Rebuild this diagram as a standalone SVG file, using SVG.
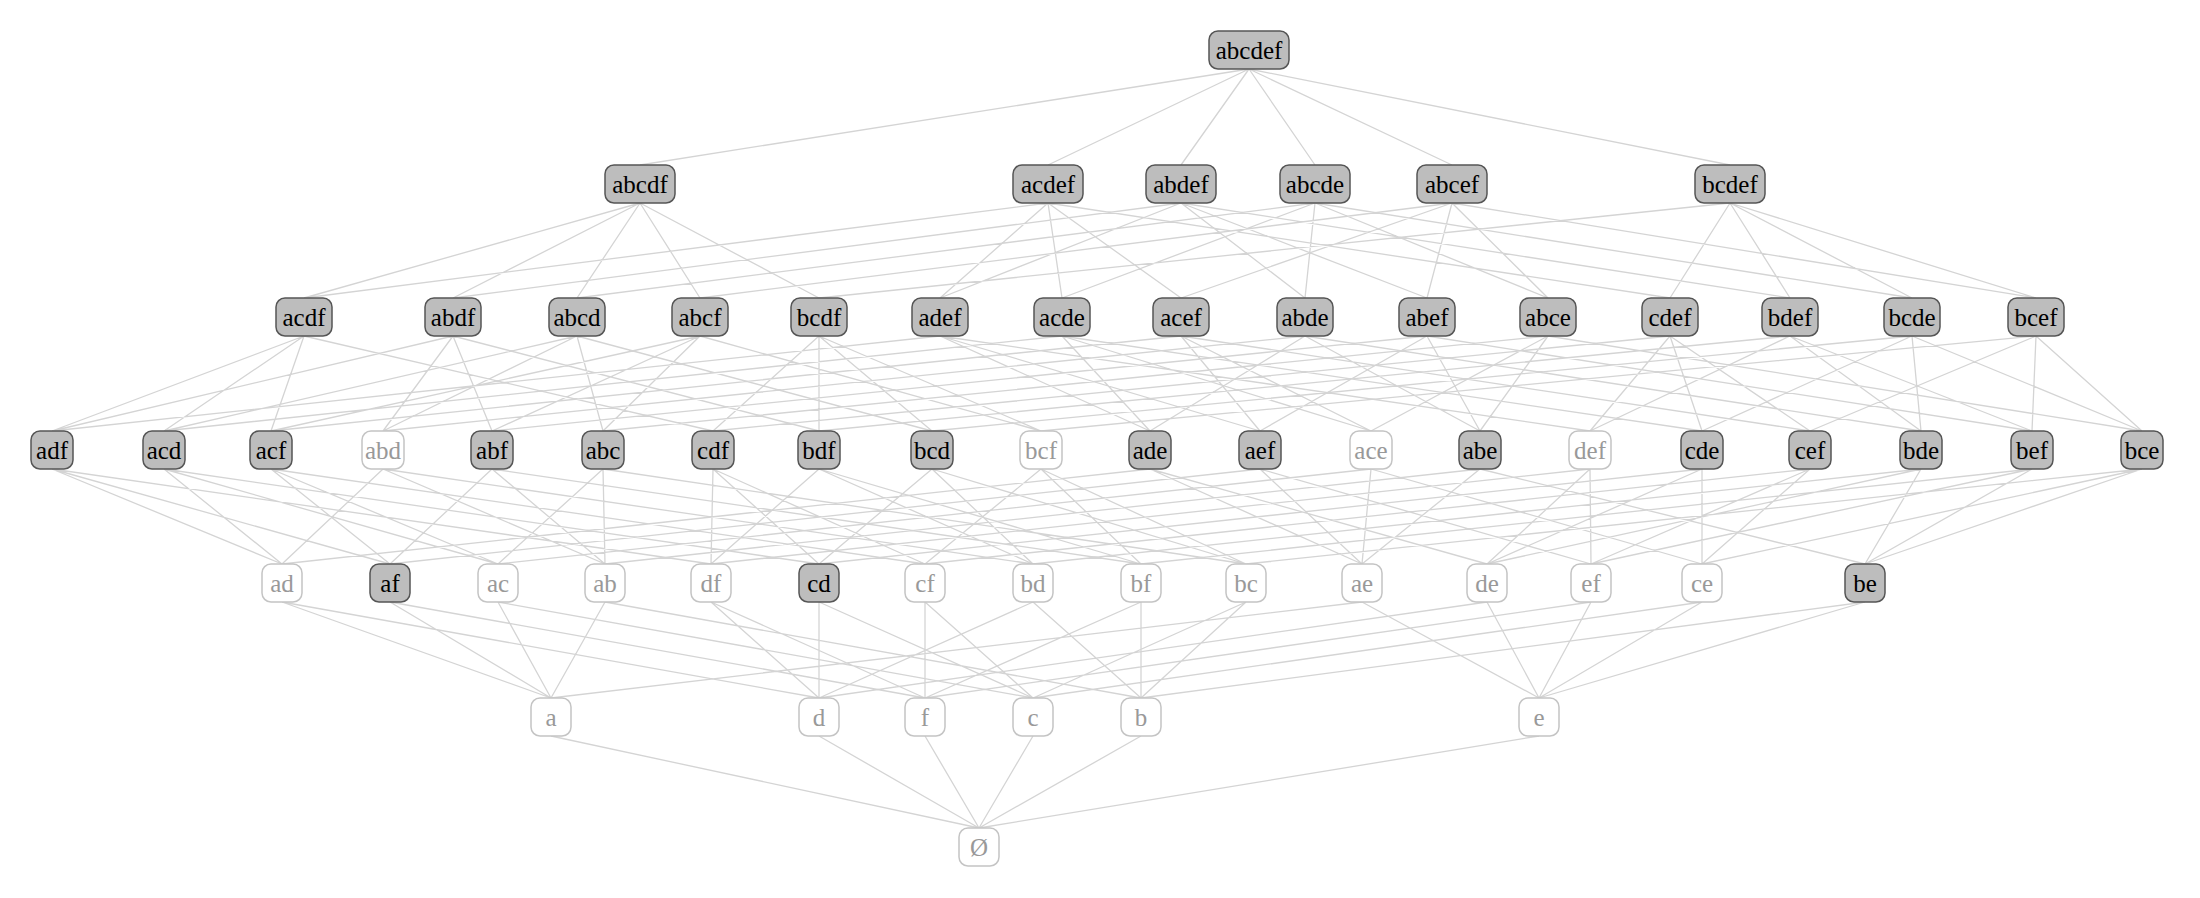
<svg xmlns="http://www.w3.org/2000/svg" width="2200" height="898" viewBox="0 0 2200 898">
<style>
.e path{stroke:#d4d4d4;stroke-width:1.3;fill:none}
.f rect{fill:#bdbdbd;stroke:#555;stroke-width:1.5}
.f text{fill:#000}
.u rect{fill:#fff;stroke:#c4c4c4;stroke-width:1.5}
.u text{fill:#999}
text{font-family:"Liberation Serif",serif;font-size:25px;text-anchor:middle}
</style>
<rect width="2200" height="898" fill="#fff"/>
<g class="e">
<path d="M1249 69L640 165M1249 69L1048 165M1249 69L1181 165M1249 69L1315 165M1249 69L1452 165M1249 69L1730 165"/>
<path d="M640 203L819 298M640 203L304 298M640 203L453 298M640 203L700 298M640 203L577 298
M1048 203L1670 298M1048 203L940 298M1048 203L1181 298M1048 203L304 298M1048 203L1062 298
M1181 203L1790 298M1181 203L940 298M1181 203L1427 298M1181 203L453 298M1181 203L1305 298
M1315 203L1912 298M1315 203L1062 298M1315 203L1305 298M1315 203L1548 298M1315 203L577 298
M1452 203L2036 298M1452 203L1181 298M1452 203L1427 298M1452 203L700 298M1452 203L1548 298
M1730 203L1670 298M1730 203L1790 298M1730 203L2036 298M1730 203L819 298M1730 203L1912 298"/>
<path d="M304 336L713 431M304 336L52 431M304 336L271 431M304 336L164 431
M453 336L819 431M453 336L52 431M453 336L492 431M453 336L383 431
M577 336L932 431M577 336L164 431M577 336L383 431M577 336L603 431
M700 336L1041 431M700 336L271 431M700 336L492 431M700 336L603 431
M819 336L713 431M819 336L819 431M819 336L1041 431M819 336L932 431
M940 336L1590 431M940 336L1260 431M940 336L52 431M940 336L1150 431
M1062 336L1702 431M1062 336L1150 431M1062 336L1371 431M1062 336L164 431
M1181 336L1810 431M1181 336L1260 431M1181 336L271 431M1181 336L1371 431
M1305 336L1921 431M1305 336L1150 431M1305 336L1480 431M1305 336L383 431
M1427 336L2032 431M1427 336L1260 431M1427 336L492 431M1427 336L1480 431
M1548 336L2142 431M1548 336L1371 431M1548 336L1480 431M1548 336L603 431
M1670 336L1590 431M1670 336L1810 431M1670 336L713 431M1670 336L1702 431
M1790 336L1590 431M1790 336L2032 431M1790 336L819 431M1790 336L1921 431
M1912 336L1702 431M1912 336L1921 431M1912 336L2142 431M1912 336L932 431
M2036 336L1810 431M2036 336L2032 431M2036 336L2142 431M2036 336L1041 431"/>
<path d="M52 469L711 564M52 469L390 564M52 469L282 564
M164 469L819 564M164 469L282 564M164 469L498 564
M271 469L925 564M271 469L390 564M271 469L498 564
M383 469L1033 564M383 469L282 564M383 469L605 564
M492 469L1141 564M492 469L390 564M492 469L605 564
M603 469L1246 564M603 469L498 564M603 469L605 564
M713 469L711 564M713 469L925 564M713 469L819 564
M819 469L711 564M819 469L1141 564M819 469L1033 564
M932 469L819 564M932 469L1033 564M932 469L1246 564
M1041 469L925 564M1041 469L1141 564M1041 469L1246 564
M1150 469L1487 564M1150 469L1362 564M1150 469L282 564
M1260 469L1591 564M1260 469L1362 564M1260 469L390 564
M1371 469L1702 564M1371 469L1362 564M1371 469L498 564
M1480 469L1865 564M1480 469L1362 564M1480 469L605 564
M1590 469L1591 564M1590 469L711 564M1590 469L1487 564
M1702 469L1487 564M1702 469L1702 564M1702 469L819 564
M1810 469L1591 564M1810 469L925 564M1810 469L1702 564
M1921 469L1487 564M1921 469L1865 564M1921 469L1033 564
M2032 469L1591 564M2032 469L1141 564M2032 469L1865 564
M2142 469L1702 564M2142 469L1865 564M2142 469L1246 564"/>
<path d="M282 602L819 698M282 602L551 698M390 602L925 698M390 602L551 698
M498 602L1033 698M498 602L551 698M605 602L1141 698M605 602L551 698
M711 602L925 698M711 602L819 698M819 602L819 698M819 602L1033 698
M925 602L925 698M925 602L1033 698M1033 602L819 698M1033 602L1141 698
M1141 602L925 698M1141 602L1141 698M1246 602L1033 698M1246 602L1141 698
M1362 602L1539 698M1362 602L551 698M1487 602L1539 698M1487 602L819 698
M1591 602L925 698M1591 602L1539 698M1702 602L1539 698M1702 602L1033 698
M1865 602L1539 698M1865 602L1141 698"/>
<path d="M551 736L979 828M819 736L979 828M925 736L979 828M1033 736L979 828M1141 736L979 828M1539 736L979 828"/>
</g>
<g id="n-abcdef" class="f"><rect x="1209" y="31" width="80" height="38" rx="9"/><text x="1249" y="59">abcdef</text></g>
<g id="n-abcdf" class="f"><rect x="605" y="165" width="70" height="38" rx="9"/><text x="640" y="193">abcdf</text></g>
<g id="n-acdef" class="f"><rect x="1013" y="165" width="70" height="38" rx="9"/><text x="1048" y="193">acdef</text></g>
<g id="n-abdef" class="f"><rect x="1146" y="165" width="70" height="38" rx="9"/><text x="1181" y="193">abdef</text></g>
<g id="n-abcde" class="f"><rect x="1280" y="165" width="70" height="38" rx="9"/><text x="1315" y="193">abcde</text></g>
<g id="n-abcef" class="f"><rect x="1417" y="165" width="70" height="38" rx="9"/><text x="1452" y="193">abcef</text></g>
<g id="n-bcdef" class="f"><rect x="1695" y="165" width="70" height="38" rx="9"/><text x="1730" y="193">bcdef</text></g>
<g id="n-acdf" class="f"><rect x="276" y="298" width="56" height="38" rx="9"/><text x="304" y="326">acdf</text></g>
<g id="n-abdf" class="f"><rect x="425" y="298" width="56" height="38" rx="9"/><text x="453" y="326">abdf</text></g>
<g id="n-abcd" class="f"><rect x="549" y="298" width="56" height="38" rx="9"/><text x="577" y="326">abcd</text></g>
<g id="n-abcf" class="f"><rect x="672" y="298" width="56" height="38" rx="9"/><text x="700" y="326">abcf</text></g>
<g id="n-bcdf" class="f"><rect x="791" y="298" width="56" height="38" rx="9"/><text x="819" y="326">bcdf</text></g>
<g id="n-adef" class="f"><rect x="912" y="298" width="56" height="38" rx="9"/><text x="940" y="326">adef</text></g>
<g id="n-acde" class="f"><rect x="1034" y="298" width="56" height="38" rx="9"/><text x="1062" y="326">acde</text></g>
<g id="n-acef" class="f"><rect x="1153" y="298" width="56" height="38" rx="9"/><text x="1181" y="326">acef</text></g>
<g id="n-abde" class="f"><rect x="1277" y="298" width="56" height="38" rx="9"/><text x="1305" y="326">abde</text></g>
<g id="n-abef" class="f"><rect x="1399" y="298" width="56" height="38" rx="9"/><text x="1427" y="326">abef</text></g>
<g id="n-abce" class="f"><rect x="1520" y="298" width="56" height="38" rx="9"/><text x="1548" y="326">abce</text></g>
<g id="n-cdef" class="f"><rect x="1642" y="298" width="56" height="38" rx="9"/><text x="1670" y="326">cdef</text></g>
<g id="n-bdef" class="f"><rect x="1762" y="298" width="56" height="38" rx="9"/><text x="1790" y="326">bdef</text></g>
<g id="n-bcde" class="f"><rect x="1884" y="298" width="56" height="38" rx="9"/><text x="1912" y="326">bcde</text></g>
<g id="n-bcef" class="f"><rect x="2008" y="298" width="56" height="38" rx="9"/><text x="2036" y="326">bcef</text></g>
<g id="n-adf" class="f"><rect x="31" y="431" width="42" height="38" rx="9"/><text x="52" y="459">adf</text></g>
<g id="n-acd" class="f"><rect x="143" y="431" width="42" height="38" rx="9"/><text x="164" y="459">acd</text></g>
<g id="n-acf" class="f"><rect x="250" y="431" width="42" height="38" rx="9"/><text x="271" y="459">acf</text></g>
<g id="n-abd" class="u"><rect x="362" y="431" width="42" height="38" rx="9"/><text x="383" y="459">abd</text></g>
<g id="n-abf" class="f"><rect x="471" y="431" width="42" height="38" rx="9"/><text x="492" y="459">abf</text></g>
<g id="n-abc" class="f"><rect x="582" y="431" width="42" height="38" rx="9"/><text x="603" y="459">abc</text></g>
<g id="n-cdf" class="f"><rect x="692" y="431" width="42" height="38" rx="9"/><text x="713" y="459">cdf</text></g>
<g id="n-bdf" class="f"><rect x="798" y="431" width="42" height="38" rx="9"/><text x="819" y="459">bdf</text></g>
<g id="n-bcd" class="f"><rect x="911" y="431" width="42" height="38" rx="9"/><text x="932" y="459">bcd</text></g>
<g id="n-bcf" class="u"><rect x="1020" y="431" width="42" height="38" rx="9"/><text x="1041" y="459">bcf</text></g>
<g id="n-ade" class="f"><rect x="1129" y="431" width="42" height="38" rx="9"/><text x="1150" y="459">ade</text></g>
<g id="n-aef" class="f"><rect x="1239" y="431" width="42" height="38" rx="9"/><text x="1260" y="459">aef</text></g>
<g id="n-ace" class="u"><rect x="1350" y="431" width="42" height="38" rx="9"/><text x="1371" y="459">ace</text></g>
<g id="n-abe" class="f"><rect x="1459" y="431" width="42" height="38" rx="9"/><text x="1480" y="459">abe</text></g>
<g id="n-def" class="u"><rect x="1569" y="431" width="42" height="38" rx="9"/><text x="1590" y="459">def</text></g>
<g id="n-cde" class="f"><rect x="1681" y="431" width="42" height="38" rx="9"/><text x="1702" y="459">cde</text></g>
<g id="n-cef" class="f"><rect x="1789" y="431" width="42" height="38" rx="9"/><text x="1810" y="459">cef</text></g>
<g id="n-bde" class="f"><rect x="1900" y="431" width="42" height="38" rx="9"/><text x="1921" y="459">bde</text></g>
<g id="n-bef" class="f"><rect x="2011" y="431" width="42" height="38" rx="9"/><text x="2032" y="459">bef</text></g>
<g id="n-bce" class="f"><rect x="2121" y="431" width="42" height="38" rx="9"/><text x="2142" y="459">bce</text></g>
<g id="n-ad" class="u"><rect x="262" y="564" width="40" height="38" rx="9"/><text x="282" y="592">ad</text></g>
<g id="n-af" class="f"><rect x="370" y="564" width="40" height="38" rx="9"/><text x="390" y="592">af</text></g>
<g id="n-ac" class="u"><rect x="478" y="564" width="40" height="38" rx="9"/><text x="498" y="592">ac</text></g>
<g id="n-ab" class="u"><rect x="585" y="564" width="40" height="38" rx="9"/><text x="605" y="592">ab</text></g>
<g id="n-df" class="u"><rect x="691" y="564" width="40" height="38" rx="9"/><text x="711" y="592">df</text></g>
<g id="n-cd" class="f"><rect x="799" y="564" width="40" height="38" rx="9"/><text x="819" y="592">cd</text></g>
<g id="n-cf" class="u"><rect x="905" y="564" width="40" height="38" rx="9"/><text x="925" y="592">cf</text></g>
<g id="n-bd" class="u"><rect x="1013" y="564" width="40" height="38" rx="9"/><text x="1033" y="592">bd</text></g>
<g id="n-bf" class="u"><rect x="1121" y="564" width="40" height="38" rx="9"/><text x="1141" y="592">bf</text></g>
<g id="n-bc" class="u"><rect x="1226" y="564" width="40" height="38" rx="9"/><text x="1246" y="592">bc</text></g>
<g id="n-ae" class="u"><rect x="1342" y="564" width="40" height="38" rx="9"/><text x="1362" y="592">ae</text></g>
<g id="n-de" class="u"><rect x="1467" y="564" width="40" height="38" rx="9"/><text x="1487" y="592">de</text></g>
<g id="n-ef" class="u"><rect x="1571" y="564" width="40" height="38" rx="9"/><text x="1591" y="592">ef</text></g>
<g id="n-ce" class="u"><rect x="1682" y="564" width="40" height="38" rx="9"/><text x="1702" y="592">ce</text></g>
<g id="n-be" class="f"><rect x="1845" y="564" width="40" height="38" rx="9"/><text x="1865" y="592">be</text></g>
<g id="n-a" class="u"><rect x="531" y="698" width="40" height="38" rx="9"/><text x="551" y="726">a</text></g>
<g id="n-d" class="u"><rect x="799" y="698" width="40" height="38" rx="9"/><text x="819" y="726">d</text></g>
<g id="n-f" class="u"><rect x="905" y="698" width="40" height="38" rx="9"/><text x="925" y="726">f</text></g>
<g id="n-c" class="u"><rect x="1013" y="698" width="40" height="38" rx="9"/><text x="1033" y="726">c</text></g>
<g id="n-b" class="u"><rect x="1121" y="698" width="40" height="38" rx="9"/><text x="1141" y="726">b</text></g>
<g id="n-e" class="u"><rect x="1519" y="698" width="40" height="38" rx="9"/><text x="1539" y="726">e</text></g>
<g id="n-empty" class="u"><rect x="959" y="828" width="40" height="38" rx="9"/><text x="979" y="856">Ø</text></g>
</svg>
